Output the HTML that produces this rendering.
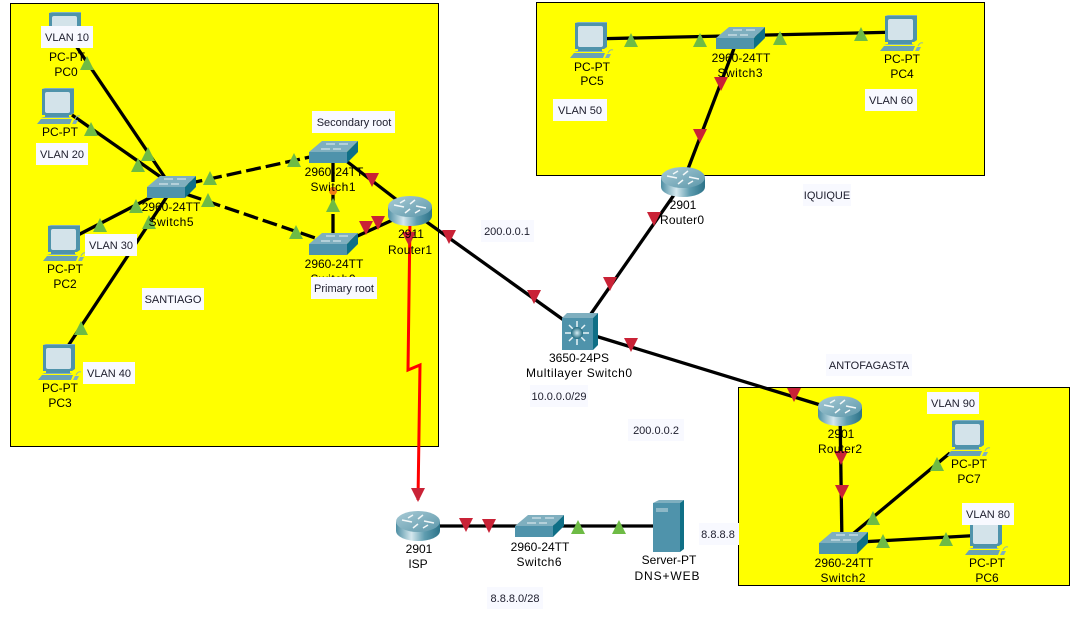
<!DOCTYPE html>
<html><head><meta charset="utf-8"><style>
html,body{margin:0;padding:0;background:#fff;width:1088px;height:625px;overflow:hidden}
svg{display:block}
text{font-family:"Liberation Sans",sans-serif;fill:#000;font-size:12px;text-anchor:middle}
.l text{font-size:11px;fill:#1c1c2c}
</style></head><body>
<svg width="1088" height="625" viewBox="0 0 1088 625" xmlns="http://www.w3.org/2000/svg">
<defs>
<linearGradient id="rg" x1="0" x2="1" y1="0" y2="0"><stop offset="0" stop-color="#4d8ea3"/><stop offset=".35" stop-color="#d5e8ee"/><stop offset=".65" stop-color="#5f9db0"/><stop offset="1" stop-color="#2c7288"/></linearGradient>
<linearGradient id="rt" x1="0" x2="1" y1="0" y2="1"><stop offset="0" stop-color="#a9cbd6"/><stop offset="1" stop-color="#5c97aa"/></linearGradient>
<radialGradient id="ball"><stop offset="0" stop-color="#d8eef4"/><stop offset="1" stop-color="#1f6a80"/></radialGradient>
<g id="sw">
<polygon points="0,11 13,0 49,0 38,11" fill="#7fafbf"/>
<rect x="0" y="11" width="38" height="11" fill="#4f93ab"/>
<polygon points="38,11 49,0 49,11 38,22" fill="#0f6f86"/>
<path d="M12,8h9M24,8h8M17,3h9M30,3h9" stroke="#e8f2f5" stroke-width="1" fill="none"/>
</g>
<g id="rtr">
<path d="M0,11V20A22,10 0 0 0 44,20V11Z" fill="url(#rg)"/>
<ellipse cx="22" cy="10.500" rx="22" ry="10.500" fill="url(#rt)"/>
<path d="M6,9l10,2M38,12l-10-2M17,17l5-4M27,4l-5,4M17,4l-5,3M27,17l5-3" stroke="#f2f7f8" stroke-width="1.500" fill="none"/>
</g>
<g id="pc">
<polygon points="5,1 37,1 37,25 34,27 5,27" fill="#4f93ab"/>
<polygon points="5,1 8,0 37,0 37,1" fill="#7fafbf"/>
<rect x="8" y="4" width="25" height="21" rx="2" fill="#d3e3ea"/>
<rect x="8" y="27" width="24" height="2" fill="#4f93ab"/>
<polygon points="4,30 34,30 32,29 7,29" fill="#7fafbf"/>
<polygon points="0,36 4,31 35,31 33,36" fill="#6aa2b5"/>
<polygon points="35,36 37,32 41,32 39,36" fill="#7fafbf"/>
<path d="M38,31q2,-4 5,-3" stroke="#8fb8a8" fill="none"/>
</g>
<polygon id="u" points="-7,7 7,7 0,-7" fill="#6ebb45"/>
<polygon id="d" points="-7,-7 7,-7 0,7" fill="#c92236"/>
</defs>

<rect x="10.500" y="3.500" width="428" height="443" fill="#ff0" stroke="#000"/>
<rect x="536.500" y="2.500" width="448" height="173" fill="#ff0" stroke="#000"/>
<rect x="738.500" y="387.500" width="331" height="198" fill="#ff0" stroke="#000"/>

<g stroke="#000" stroke-width="3.300" fill="none">
<path d="M72,40L168,182"/>
<path d="M72,115L165,180"/>
<path d="M78,235L165,190"/>
<path d="M68,346L170,192"/>
<path d="M168,188L333,152" stroke-dasharray="15 5"/>
<path d="M168,188L333,244" stroke-dasharray="15 5"/>
<path d="M333,160V236" stroke-dasharray="22 5"/>
<path d="M345,160L410,210"/>
<path d="M340,244L410,212"/>
<path d="M410,210L579,331"/>
<path d="M683,182L579,331"/>
<path d="M579,331L840,411"/>
<path d="M590,39L900,32"/>
<path d="M738,38L683,182"/>
<path d="M840,411L842,545"/>
<path d="M842,543L950,453"/>
<path d="M842,543L985,535"/>
<path d="M418,526H668"/>
</g>
<path d="M410,220L408,370L420,365L418,500" stroke="#f00" stroke-width="3" fill="none"/>

<use href="#pc" x="44" y="12"/>
<use href="#pc" x="37" y="88"/>
<use href="#pc" x="43" y="225"/>
<use href="#pc" x="38" y="344"/>
<use href="#pc" x="570" y="22"/>
<use href="#pc" x="880" y="15"/>
<use href="#pc" x="947" y="420"/>
<use href="#pc" x="965" y="519"/>
<use href="#sw" x="147" y="176"/>
<use href="#sw" x="309" y="141"/>
<use href="#sw" x="309" y="233"/>
<use href="#sw" x="716" y="27"/>
<use href="#sw" x="515" y="515"/>
<use href="#sw" x="819" y="532"/>
<use href="#rtr" x="388" y="196"/>
<use href="#rtr" x="661" y="167"/>
<use href="#rtr" x="818" y="396"/>
<use href="#rtr" x="396" y="511"/>

<rect x="562" y="318" width="31" height="32" fill="#4f93ab"/>
<polygon points="562,318 567,313 598,313 593,318" fill="#7fafbf"/>
<polygon points="593,318 598,313 598,345 593,350" fill="#0f6f86"/>
<g stroke="#e8f4f7" stroke-width="1.500"><path d="M577,321v24M565,333h24M569,325l16,16M585,325l-16,16"/></g>
<circle cx="577" cy="333" r="6" fill="url(#ball)"/>

<rect x="653" y="503" width="27" height="49" fill="#4f93ab"/>
<polygon points="653,503 659,500 684,500 680,503" fill="#7fafbf"/>
<polygon points="680,503 684,500 684,549 680,552" fill="#0f6f86"/>
<rect x="656" y="508" width="12" height="4" fill="#8db8c7"/>

<use href="#u" x="87" y="63"/><use href="#u" x="91" y="129"/><use href="#u" x="148" y="154"/><use href="#u" x="138" y="165"/>
<use href="#u" x="136" y="206"/><use href="#u" x="100" y="225"/><use href="#u" x="149" y="222"/><use href="#u" x="81" y="328"/>
<use href="#u" x="210" y="178"/><use href="#u" x="208" y="200"/><use href="#u" x="294" y="160"/><use href="#u" x="296" y="232"/>
<use href="#u" x="333" y="205"/>
<circle cx="333" cy="191" r="4" fill="#ef7d14"/>
<use href="#d" x="372" y="180"/><use href="#d" x="366" y="228"/><use href="#d" x="378" y="223"/><use href="#d" x="409" y="239"/>
<use href="#d" x="449" y="237"/><use href="#d" x="534" y="297"/><use href="#d" x="418" y="495"/>
<use href="#u" x="631" y="40"/><use href="#u" x="700" y="40"/><use href="#u" x="780" y="38"/><use href="#u" x="861" y="34"/>
<use href="#d" x="721" y="84"/><use href="#d" x="700" y="136"/><use href="#d" x="654" y="219"/><use href="#d" x="610" y="284"/>
<use href="#d" x="631" y="345"/><use href="#d" x="794" y="395"/><use href="#d" x="841" y="458"/><use href="#d" x="842" y="492"/>
<use href="#u" x="873" y="518"/><use href="#u" x="937" y="464"/><use href="#u" x="883" y="541"/><use href="#u" x="946" y="539"/>
<use href="#d" x="466" y="525"/><use href="#d" x="489" y="526"/><use href="#u" x="578" y="527"/><use href="#u" x="619" y="527"/>

<text x="67" y="61">PC-PT</text><text x="66" y="76">PC0</text>
<text x="60" y="136">PC-PT</text><text x="60" y="152">PC1</text>
<text x="65" y="273">PC-PT</text><text x="65" y="288">PC2</text>
<text x="60" y="392">PC-PT</text><text x="60" y="407">PC3</text>
<text x="171" y="211">2960-24TT</text><text x="171" y="226" textLength="45" lengthAdjust="spacing">Switch5</text>
<text x="334" y="176">2960-24TT</text><text x="333" y="191" textLength="45" lengthAdjust="spacing">Switch1</text>
<text x="334" y="268">2960-24TT</text><text x="333" y="283" textLength="45" lengthAdjust="spacing">Switch0</text>
<text x="411" y="238">2911</text><text x="410" y="254" textLength="44" lengthAdjust="spacing">Router1</text>
<text x="592" y="71">PC-PT</text><text x="592" y="85">PC5</text>
<text x="741" y="62">2960-24TT</text><text x="740" y="77" textLength="45" lengthAdjust="spacing">Switch3</text>
<text x="902" y="63">PC-PT</text><text x="902" y="78">PC4</text>
<text x="683" y="209">2901</text><text x="682" y="224" textLength="44" lengthAdjust="spacing">Router0</text>
<text x="579" y="362">3650-24PS</text><text x="579" y="377" textLength="106" lengthAdjust="spacing">Multilayer Switch0</text>
<text x="841" y="438">2901</text><text x="840" y="453" textLength="44" lengthAdjust="spacing">Router2</text>
<text x="969" y="468">PC-PT</text><text x="969" y="483">PC7</text>
<text x="844" y="567">2960-24TT</text><text x="843" y="582" textLength="45" lengthAdjust="spacing">Switch2</text>
<text x="987" y="567">PC-PT</text><text x="987" y="582">PC6</text>
<text x="419" y="553">2901</text><text x="418" y="568">ISP</text>
<text x="540" y="551">2960-24TT</text><text x="539" y="566" textLength="45" lengthAdjust="spacing">Switch6</text>
<text x="669" y="564">Server-PT</text><text x="667" y="580" textLength="65" lengthAdjust="spacing">DNS+WEB</text>

<g fill="#f8f9ff">
<rect x="41" y="26" width="52" height="22"/>
<rect x="36" y="143" width="52" height="22"/>
<rect x="85" y="234" width="52" height="22"/>
<rect x="83" y="362" width="52" height="22"/>
<rect x="142" y="288" width="62" height="22"/>
<rect x="312" y="111" width="83" height="22"/>
<rect x="311" y="277" width="66" height="22"/>
<rect x="481" y="220" width="53" height="22"/>
<rect x="530" y="385" width="58" height="22"/>
<rect x="628" y="419" width="56" height="22"/>
<rect x="487" y="587" width="56" height="22"/>
<rect x="699" y="523" width="40" height="22"/>
<rect x="553" y="99" width="54" height="22"/>
<rect x="865" y="89" width="52" height="22"/>
<rect x="803" y="184" width="48" height="22"/>
<rect x="826" y="354" width="86" height="22"/>
<rect x="927" y="392" width="52" height="22"/>
<rect x="962" y="503" width="52" height="22"/>
</g>
<g class="l">
<text x="67" y="41">VLAN 10</text>
<text x="62" y="158">VLAN 20</text>
<text x="111" y="249">VLAN 30</text>
<text x="109" y="377">VLAN 40</text>
<text x="173" y="303">SANTIAGO</text>
<text x="354" y="126">Secondary root</text>
<text x="344" y="292">Primary root</text>
<text x="507" y="235">200.0.0.1</text>
<text x="559" y="400">10.0.0.0/29</text>
<text x="656" y="434">200.0.0.2</text>
<text x="515" y="602">8.8.8.0/28</text>
<text x="718" y="538">8.8.8.8</text>
<text x="580" y="114">VLAN 50</text>
<text x="891" y="104">VLAN 60</text>
<text x="827" y="199">IQUIQUE</text>
<text x="869" y="369">ANTOFAGASTA</text>
<text x="953" y="407">VLAN 90</text>
<text x="988" y="518">VLAN 80</text>
</g>
</svg>
</body></html>
